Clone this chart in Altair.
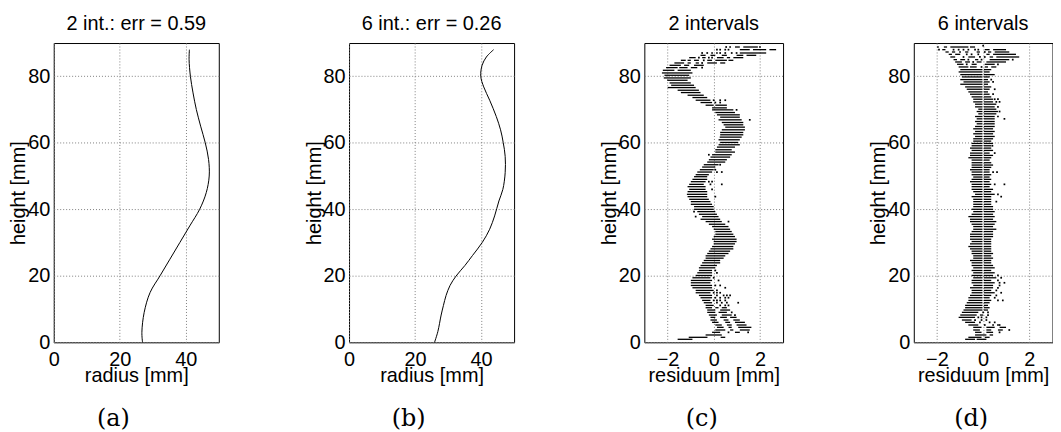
import altair as alt
import pandas as pd

FONT = "Liberation Sans"

titles = ["2 int.: err = 0.59", "6 int.: err = 0.26", "2 intervals", "6 intervals"]
captions = ["(a)", "(b)", "(c)", "(d)"]
y_ticks = [0, 20, 40, 60, 80]
radius_ticks = [0, 20, 40]
resid_ticks = [-2, 0, 2]

# (a) fitted profile, 2 intervals
a_height = [0, 3, 9, 15, 20, 25, 30, 35, 40, 45, 50, 55, 60, 65, 70, 75, 80, 85, 88]
a_radius = [26.9, 26.7, 27.4, 29.2, 32.2, 35.2, 38.2, 41.2, 44.2, 46.2, 47.1, 46.9,
            45.9, 44.5, 43.2, 42.2, 41.4, 41.0, 41.1]

# (b) fitted profile, 6 intervals
b_height = [0, 3.2, 8.2, 11.1, 14.1, 17.1, 19.9, 23.1, 26.1, 30.1, 34.0, 38.0, 42.5,
            46.0, 51.0, 55.9, 60.1, 63.9, 67.9, 72.8, 76.8, 80.0, 83.3, 85.8, 88.0]
b_radius = [25.9, 26.9, 27.9, 28.6, 29.4, 30.6, 32.4, 35.1, 37.4, 40.4, 42.6, 44.1, 45.4,
            46.6, 47.3, 47.3, 46.7, 45.9, 44.6, 42.6, 40.8, 39.9, 40.3, 41.6, 43.8]

# (c) residual rows: (height, residual from, residual to)
c_segments = [
    (88.8, 0.92, 1.13), (88.8, 1.28, 1.91),
    (88.0, 1.13, 1.56), (88.0, 1.70, 2.27), (88.0, 2.41, 2.70),
    (87.0, 1.13, 2.27),
    (86.3, -0.57, -0.35), (86.3, -0.14, 0.07), (86.3, 0.35, 0.57), (86.3, 0.99, 1.28), (86.3, 1.42, 1.84),
    (85.6, -1.06, -0.78), (85.6, -0.50, -0.35), (85.6, 0.14, 0.43), (85.6, 0.57, 0.71), (85.6, 0.85, 1.28),
    (84.8, -1.42, -1.21), (84.8, -1.13, -0.99), (84.8, -0.85, -0.64), (84.8, -0.28, -0.07),
    (84.8, 0.07, 0.57), (84.8, 0.64, 0.85),
    (84.0, -1.70, -1.28), (84.0, -1.13, -0.99), (84.0, -0.78, -0.64), (84.0, -0.28, 0.14), (84.0, 0.28, 0.50),
    (83.3, -1.91, -1.42), (83.3, -1.28, -1.06), (83.3, -0.85, -0.43),
    (82.6, -2.06, -1.56), (82.6, -1.49, -1.13), (82.6, -0.99, -0.71),
    (81.8, -2.20, -1.70), (81.8, -1.56, -0.99),
    (81.0, -2.24, -0.92), (80.3, -2.13, -1.06), (79.5, -2.16, -0.99), (78.8, -2.01, -1.13),
    (78.0, -1.91, -0.99), (77.3, -1.84, -0.85), (76.6, -1.99, -0.78), (75.8, -1.56, -0.64),
    (75.1, -1.42, -0.57), (74.3, -1.13, -0.43), (73.6, -0.92, -0.28), (72.8, -0.78, -0.14),
    (72.1, -0.57, -0.07), (71.3, -0.35, 0.00), (71.3, 0.07, 0.57), (70.5, -0.07, 0.57),
    (69.9, -0.07, 0.85), (69.1, 0.07, 0.92), (68.4, 0.14, 1.13), (67.7, 0.28, 1.13),
    (66.9, 0.21, 1.21), (66.1, 0.35, 1.28), (65.4, 0.43, 1.28), (64.7, 0.50, 1.35),
    (63.9, 0.35, 1.35), (63.1, 0.28, 1.28), (62.4, 0.28, 1.28), (61.7, 0.26, 1.21),
    (60.9, 0.21, 1.13), (60.1, 0.28, 1.06), (59.4, 0.21, 1.13), (58.7, 0.14, 0.92),
    (57.9, 0.07, 0.78), (57.2, 0.07, 0.92), (56.4, -0.07, 0.78), (55.7, -0.14, 0.71),
    (54.9, -0.21, 0.57), (54.2, -0.28, 0.50), (53.4, -0.43, 0.21), (52.7, -0.50, 0.07),
    (51.9, -0.60, 0.00), (51.2, -0.71, -0.07), (50.4, -0.78, -0.21), (49.8, -0.85, -0.28),
    (49.0, -0.92, -0.28), (48.3, -0.99, -0.35), (47.5, -1.06, -0.43), (46.8, -1.13, -0.35),
    (46.0, -1.06, -0.35), (45.3, -1.13, -0.28), (44.5, -1.16, -0.28), (43.8, -1.13, -0.28),
    (43.0, -1.06, -0.21), (42.3, -0.99, -0.14), (41.5, -0.99, -0.07), (40.8, -0.85, 0.00),
    (40.0, -0.85, 0.00), (39.3, -0.71, 0.07), (38.5, -0.64, 0.14), (37.8, -0.50, 0.21),
    (37.0, -0.57, 0.28), (36.3, -0.35, 0.35), (35.5, -0.21, 0.50), (34.8, -0.07, 0.64),
    (34.0, 0.00, 0.71), (33.3, 0.07, 0.78), (32.5, 0.07, 0.85), (31.8, 0.00, 0.92),
    (31.0, -0.07, 0.99), (30.3, 0.00, 0.99), (29.6, 0.00, 0.92), (28.8, -0.07, 0.85),
    (28.1, -0.14, 0.85), (27.4, -0.21, 0.71), (26.7, -0.28, 0.64), (26.0, -0.35, 0.50),
    (25.3, -0.35, 0.43), (24.6, -0.43, 0.28), (23.9, -0.50, 0.28), (23.1, -0.57, 0.14),
    (22.4, -0.64, 0.07), (21.6, -0.64, -0.07), (20.9, -0.71, -0.07), (20.1, -0.78, -0.07),
    (19.4, -0.92, -0.14), (18.6, -0.99, -0.07), (17.9, -0.99, -0.14), (17.1, -0.99, -0.07),
    (16.4, -0.92, -0.07), (15.6, -0.78, 0.00), (14.9, -0.78, -0.14), (14.1, -0.64, -0.07),
    (13.4, -0.57, -0.07), (12.6, -0.50, -0.14), (11.9, -0.43, -0.07), (11.1, -0.35, 0.00),
    (10.4, -0.35, -0.07), (10.4, 0.07, 0.21), (10.4, 0.35, 0.57),
    (9.7, -0.28, 0.07), (9.7, 0.28, 0.71),
    (9.0, -0.28, 0.07), (9.0, 0.21, 0.57),
    (8.2, -0.21, 0.14), (8.2, 0.35, 0.78),
    (7.5, -0.14, 0.07), (7.5, 0.28, 0.57), (7.5, 0.71, 0.99),
    (6.7, -0.14, 0.14), (6.7, 0.43, 0.64), (6.7, 0.85, 1.13),
    (6.0, -0.07, 0.21), (6.0, 0.50, 0.71), (6.0, 0.92, 1.35),
    (5.2, 0.07, 0.35), (5.2, 0.57, 0.78), (5.2, 0.99, 1.42),
    (4.5, 0.14, 0.43), (4.5, 0.64, 0.78), (4.5, 1.06, 1.63),
    (3.7, 0.07, 0.50), (3.7, 0.71, 0.85), (3.7, 1.13, 1.56),
    (3.0, -0.07, 0.28), (3.0, 0.92, 1.13),
    (2.2, -0.35, 0.35),
    (1.5, -1.08, -0.27), (1.5, 0.30, 0.50),
    (0.9, -1.56, -0.92),
]
# (c) isolated residual points: (height, residual)
c_dots = [
    (88.8, 0.54), (88.8, 0.71), (88.8, 2.0),
    (88.0, 0.14), (88.0, 0.28), (88.0, 0.50), (88.0, 0.64),
    (87.0, -0.50), (87.0, -0.28), (87.0, -0.07), (87.0, 0.14), (87.0, 0.28), (87.0, 0.50),
    (87.0, 0.78), (87.0, 0.99),
    (85.6, -0.64), (85.6, -0.21), (85.6, -0.07), (84.8, -0.43), (84.0, -0.50), (82.6, -0.50),
    (72.8, 0.0), (72.8, 0.28), (72.8, 0.50), (72.1, 0.07), (72.1, 0.28), (69.9, 0.99),
    (66.9, 1.56), (56.4, -0.21), (53.4, 0.28), (51.9, 0.07), (51.2, 0.14), (51.2, 0.35),
    (48.3, -0.21), (48.3, -0.07), (47.5, -0.14), (47.5, 0.35), (46.0, -0.07), (43.8, 0.07),
    (39.3, -0.85), (37.8, -0.78), (36.3, 0.64), (21.6, 0.07), (20.9, 0.14), (19.4, 0.0),
    (18.6, 0.21), (17.1, 0.07), (17.1, 0.28), (16.4, 0.50), (15.6, 0.14),
    (14.9, 0.0), (14.9, 0.14), (14.9, 0.28),
    (14.1, 0.14), (14.1, 0.43), (14.1, 0.57), (14.1, 0.71),
    (13.4, 0.07), (13.4, 0.28), (13.4, 0.50), (13.4, 0.64),
    (12.6, 0.0), (12.6, 0.14), (12.6, 0.28), (12.6, 0.50),
    (11.9, 0.14), (11.9, 0.35), (11.9, 0.57), (11.9, 1.06),
    (11.1, 0.28), (11.1, 0.50), (11.1, 0.64),
    (9.0, 0.78), (8.2, 0.92), (3.0, 0.64), (3.0, 1.49),
]

# (d) main body rows, split by a thin empty gap at zero: (height, left end, right end)
d_gap = 0.03
d_body = [
    (82.0, -0.99, 0.35), (81.3, -1.06, 0.28), (80.5, -0.99, 0.50), (79.8, -0.92, 0.28),
    (79.0, -0.99, 0.21), (78.3, -0.85, 0.28), (77.6, -0.99, 0.21), (76.8, -0.78, 0.35),
    (76.1, -0.71, 0.28), (75.3, -0.64, 0.21), (74.6, -0.57, 0.28), (73.8, -0.50, 0.35),
    (73.1, -0.43, 0.43), (72.3, -0.43, 0.43), (71.6, -0.35, 0.57), (70.8, -0.35, 0.50),
    (70.1, -0.21, 0.57), (69.4, -0.28, 0.64), (68.7, -0.21, 0.57), (67.9, -0.35, 0.50),
    (67.2, -0.28, 0.50), (66.4, -0.35, 0.50), (65.7, -0.28, 0.50), (64.9, -0.35, 0.50),
    (64.2, -0.43, 0.43), (63.4, -0.35, 0.50), (62.7, -0.43, 0.43), (61.9, -0.35, 0.50),
    (61.2, -0.43, 0.43), (60.5, -0.43, 0.35), (59.8, -0.50, 0.43), (59.1, -0.50, 0.35),
    (58.4, -0.57, 0.35), (57.7, -0.50, 0.43), (56.9, -0.57, 0.28), (56.2, -0.57, 0.43),
    (55.5, -0.64, 0.35), (54.8, -0.50, 0.28), (54.0, -0.50, 0.35), (53.3, -0.50, 0.43),
    (52.6, -0.50, 0.35), (51.9, -0.57, 0.28), (51.2, -0.50, 0.28), (50.4, -0.50, 0.35),
    (49.7, -0.43, 0.28), (49.0, -0.50, 0.35), (48.3, -0.57, 0.28), (47.5, -0.50, 0.35),
    (46.8, -0.50, 0.28), (46.0, -0.50, 0.43), (45.3, -0.43, 0.35), (44.5, -0.35, 0.50),
    (43.8, -0.50, 0.35), (43.0, -0.43, 0.35), (42.3, -0.43, 0.35), (41.5, -0.43, 0.35),
    (40.8, -0.43, 0.43), (40.0, -0.50, 0.43), (39.3, -0.43, 0.50), (38.5, -0.50, 0.43),
    (37.8, -0.64, 0.50), (37.0, -0.57, 0.43), (36.3, -0.57, 0.57), (35.5, -0.50, 0.50),
    (34.8, -0.43, 0.43), (34.0, -0.43, 0.57), (33.3, -0.50, 0.43), (32.5, -0.57, 0.43),
    (31.8, -0.57, 0.43), (31.0, -0.57, 0.35), (30.3, -0.50, 0.35), (29.6, -0.57, 0.35),
    (28.8, -0.64, 0.35), (28.1, -0.57, 0.35), (27.4, -0.50, 0.35), (26.7, -0.50, 0.43),
    (26.0, -0.43, 0.35), (25.3, -0.43, 0.43), (24.6, -0.57, 0.35), (23.9, -0.50, 0.35),
    (23.1, -0.50, 0.43), (22.4, -0.43, 0.50), (21.6, -0.50, 0.35), (20.9, -0.43, 0.50),
    (20.1, -0.50, 0.43), (19.4, -0.43, 0.57), (18.6, -0.50, 0.35), (17.9, -0.50, 0.50),
    (17.1, -0.43, 0.43), (16.4, -0.57, 0.43), (15.6, -0.50, 0.35), (14.9, -0.50, 0.50),
    (14.1, -0.57, 0.35), (13.4, -0.64, 0.28), (12.6, -0.64, 0.35), (11.9, -0.71, 0.28),
    (11.1, -0.78, 0.21), (10.4, -0.78, 0.28), (9.7, -0.85, 0.21),
]
# (d) other residual rows: (height, residual from, residual to)
d_segments = [
    (88.8, -1.99, -1.92), (88.8, -1.70, -1.56), (88.8, -1.42, -0.64), (88.8, -0.57, -0.35),
    (88.0, -1.77, -1.63), (88.0, 0.07, 0.28), (88.0, 0.43, 0.99),
    (87.3, -1.63, -1.49), (87.3, -1.35, -1.21), (87.3, -0.78, -0.64), (87.3, -0.28, -0.14),
    (87.3, 0.21, 0.35), (87.3, 0.50, 1.13),
    (86.6, -1.49, -1.35), (86.6, -1.21, -0.99), (86.6, 0.14, 0.28), (86.6, 0.43, 1.42),
    (85.8, -1.42, -1.21), (85.8, -0.64, -0.35), (85.8, 0.28, 0.43), (85.8, 0.57, 1.56),
    (85.0, -1.28, -1.13), (85.0, -0.99, -0.78), (85.0, -0.35, -0.21), (85.0, 0.28, 1.13),
    (84.3, -1.21, -0.92), (84.3, -0.78, -0.57), (84.3, -0.28, -0.07), (84.3, 0.14, 0.99),
    (83.6, -1.13, -0.85), (83.6, -0.50, -0.28), (83.6, 0.07, 0.50),
    (82.8, -1.06, -0.64), (82.8, -0.57, -0.28), (82.8, 0.07, 0.21), (82.8, 0.35, 0.57),
    (9.0, -0.92, -0.21), (8.2, -0.99, -0.28), (8.2, -0.14, 0.0), (7.5, -1.06, -0.35),
    (6.7, -0.92, -0.50), (6.0, -0.78, -0.35), (5.2, -0.64, -0.21),
    (4.5, -0.43, -0.07), (4.5, 0.14, 0.50), (4.5, 0.71, 0.99),
    (3.7, -0.43, -0.14), (3.7, 0.14, 0.35), (3.7, 0.64, 0.85),
    (3.0, -0.35, -0.07), (3.0, 0.14, 0.43),
    (2.2, -0.35, 0.14), (2.2, 0.28, 0.43),
    (1.5, -0.64, -0.07), (1.5, 0.07, 0.28),
    (0.9, -0.78, -0.35), (0.9, -0.28, 0.14),
]
# (d) isolated residual points: (height, residual)
d_dots = [
    (89.2, 0.0),
    (88.0, -1.91), (88.0, -1.28), (88.0, -1.06), (88.0, -0.85), (88.0, -0.64), (88.0, -0.35), (88.0, -0.21),
    (87.3, -1.0), (87.3, 0.07), (86.6, -0.71), (86.6, -0.50), (86.6, -0.21),
    (85.8, -0.85), (85.8, -0.14), (85.8, 0.07), (85.0, -0.64), (85.0, -0.07), (85.0, 1.28),
    (84.3, -0.43), (83.6, -0.71), (83.6, 0.64), (82.8, -0.07),
    (79.0, 0.35), (78.3, 0.43), (76.1, 0.50), (74.6, 0.43), (73.1, 0.50), (73.1, 0.64),
    (72.3, 0.57), (72.3, 0.71), (70.8, 0.64), (69.4, 0.71), (67.9, 0.64), (67.2, 0.92),
    (59.1, 0.40), (56.9, 0.50), (51.2, 0.43), (51.2, 0.60), (47.5, 0.50), (47.5, 0.92),
    (44.5, 0.64), (43.8, 0.78), (42.3, 0.57),
    (20.1, 0.64), (19.4, 0.78), (18.6, 0.64), (17.9, 0.71), (17.9, 0.92), (17.1, 0.71),
    (16.4, 0.64), (15.6, 0.57), (14.9, 0.78), (14.1, 0.57), (13.4, 0.50), (12.6, 0.64),
    (12.6, 0.85), (9.0, 0.0), (9.0, 0.21), (8.2, 0.21),
    (7.5, -0.21), (7.5, -0.07), (7.5, 0.14), (6.7, -0.35), (6.7, -0.07), (6.7, 0.14),
    (6.0, -0.14), (6.0, 0.28), (6.0, 0.50), (5.2, 0.07), (5.2, 0.43), (5.2, 0.64), (5.2, 0.71),
    (3.7, 1.13), (3.0, 0.71),
]

PW_WIDE, PW_NARROW, PH = 166, 139.5, 301
Y_SCALE = alt.Scale(domain=[0, 90], nice=False, zero=False)


def y_enc():
    return alt.Y("h:Q", scale=Y_SCALE,
                 axis=alt.Axis(values=y_ticks, title="height [mm]", titleX=-29,
                               titleBaseline="alphabetic"))


def x_axis(values, title):
    return alt.Axis(values=values, title=title, titleY=39, titleBaseline="alphabetic")


def title_params(text):
    return alt.TitleParams(text=text, font=FONT, fontSize=20, fontWeight="normal",
                           color="black", anchor="middle", frame="group",
                           baseline="alphabetic", offset=-7)


def caption(text, cx):
    return alt.Chart(pd.DataFrame({"cap": [text]})).mark_text(
        font="DejaVu Serif", fontSize=24, color="black", baseline="middle", align="center"
    ).encode(text="cap:N", x=alt.value(cx), y=alt.value(378))


def profile_panel(k, heights, radii):
    df = pd.DataFrame({"h": heights, "r": radii})
    line = alt.Chart(df).mark_line(color="black", strokeWidth=1, interpolate="catmull-rom").encode(
        x=alt.X("r:Q", scale=alt.Scale(domain=[0, 50], nice=False, zero=False),
                axis=x_axis(radius_ticks, "radius [mm]")),
        y=y_enc(),
        order="h:Q",
    )
    return alt.layer(line, caption(captions[k], PW_WIDE / 2 - 23)).properties(
        width=PW_WIDE, height=PH, title=title_params(titles[k]))


def residual_panel(k, segments, dots):
    seg_df = pd.DataFrame(segments, columns=["h", "lo", "hi"])
    dot_df = pd.DataFrame(dots, columns=["h", "r"])
    xs = alt.Scale(domain=[-3, 3], nice=False, zero=False)
    rules = alt.Chart(seg_df).mark_rule(color="black", strokeWidth=1.3).encode(
        x=alt.X("lo:Q", scale=xs, axis=x_axis(resid_ticks, "residuum [mm]")),
        x2="hi:Q",
        y=y_enc(),
    )
    pts = alt.Chart(dot_df).mark_square(color="black", size=3, opacity=1).encode(
        x=alt.X("r:Q", scale=xs), y=alt.Y("h:Q", scale=Y_SCALE))
    return alt.layer(rules, pts, caption(captions[k], PW_NARROW / 2 - 12)).properties(
        width=PW_NARROW, height=PH, title=title_params(titles[k]))


d_all_segments = list(d_segments)
for h, lo, hi in d_body:
    d_all_segments.append((h, lo, -d_gap))
    d_all_segments.append((h, d_gap, hi))

pa = profile_panel(0, a_height, a_radius)
pb = profile_panel(1, b_height, b_radius)
pc = residual_panel(2, c_segments, c_dots)
pd_ = residual_panel(3, d_all_segments, d_dots)

chart = alt.hconcat(pa, pb, pc, pd_, spacing=131, bounds="flush").configure(
    padding={"left": 0, "top": 4, "right": 0, "bottom": 0}
).configure_view(
    stroke="black", strokeWidth=1
).configure_axis(
    labelFont=FONT, labelFontSize=20, labelColor="black",
    titleFont=FONT, titleFontSize=20, titleFontWeight="normal", titleColor="black",
    domain=False, ticks=False, labelPadding=7, labelFlush=False, labelOverlap=False,
    grid=True, gridColor="#808080", gridDash=[1, 2], gridWidth=1,
).configure_axisLeft(labelPadding=4)

chart.save("out.html", embed_options={"renderer": "svg", "actions": False})
